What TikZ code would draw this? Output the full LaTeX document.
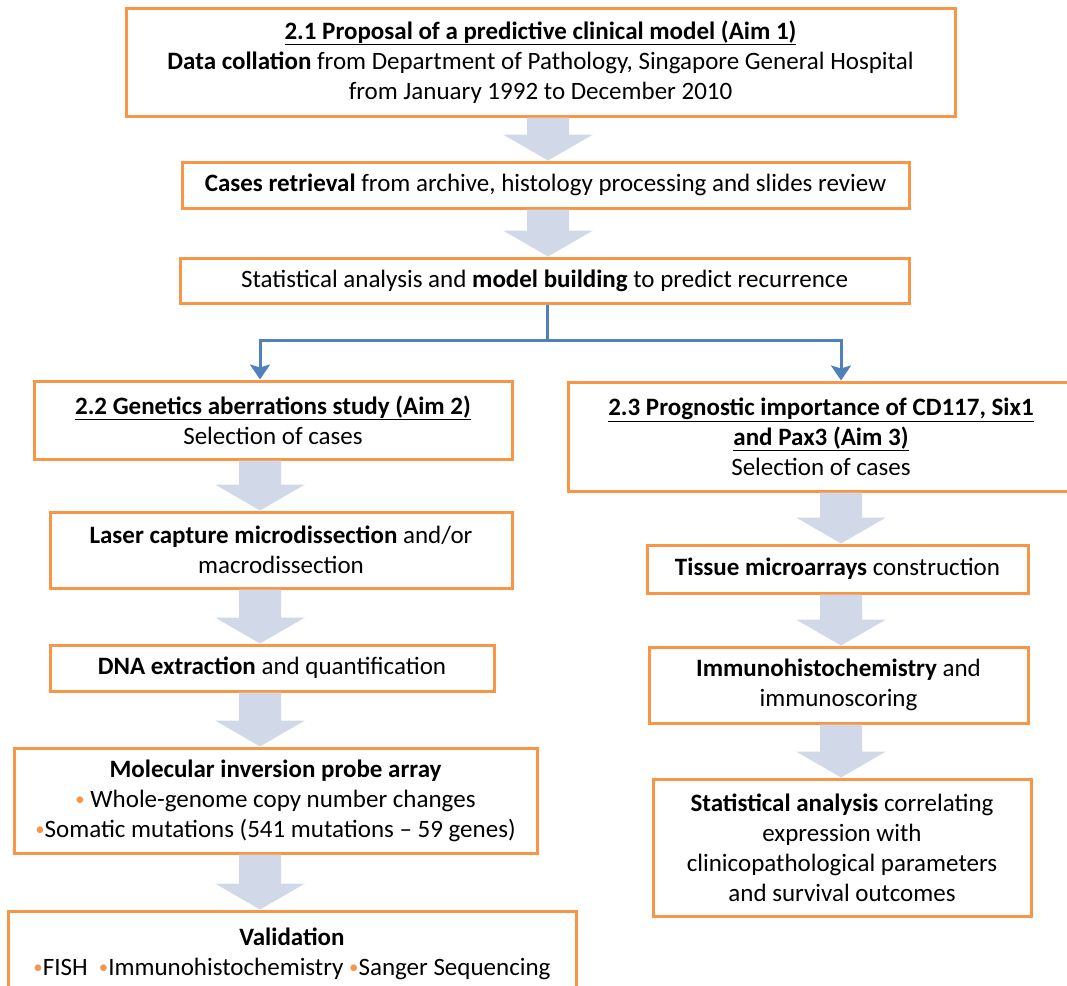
\documentclass[tikz,border=0pt]{standalone}
\usepackage{fontspec}
\setmainfont{Carlito}
\usetikzlibrary{arrows.meta,calc}

\definecolor{boxorange}{HTML}{F79646}
\definecolor{linkblue}{HTML}{4F81BD}
\definecolor{arrowgrey}{HTML}{D1D9E9}

\newcommand{\obul}{{\color{boxorange}\raisebox{0.15ex}{\scalebox{0.75}{\textbullet}}}}
% broad grey arrow between two boxes, on column #1
\newcommand{\blockarrow}[3]{%
  \path[block arrow] let \p1 = (#2.south -| #1), \p2 = (#3.north -| #1) in
    (\x1-21pt,\y1) -- (\x1+21pt,\y1) -- (\x1+21pt,\y2+26pt) -- (\x1+45pt,\y2+26pt)
    -- (\x2,\y2) -- (\x1-45pt,\y2+26pt) -- (\x1-21pt,\y2+26pt) -- cycle;}

\begin{document}
\begin{tikzpicture}[
  x=1pt, y=-1pt,
  flow box/.style={draw=boxorange, line width=3pt, fill=white, align=center,
    inner sep=0pt, font=\fontsize{25}{30}\selectfont},
  split edge/.style={draw=linkblue, line width=3pt},
  block arrow/.style={fill=arrowgrey}
]
\useasboundingbox (0,0) rectangle (1067,985);
\clip (0,0) rectangle (1067,985);

\coordinate (midcol) at (548,0);
\coordinate (leftcol) at (260,0);
\coordinate (rightcol) at (841,0);
\coordinate (fork) at (547,340);

% aim 1
\node[flow box, minimum width=829, minimum height=108] (aimone) at (540.5,62)
  {\textbf{\underline{2.1 Proposal of a predictive clinical model (Aim 1)}}\\
   \textbf{Data collation} from Department of Pathology, Singapore General Hospital\\
   from January 1992 to December 2010};
\node[flow box, minimum width=727, minimum height=46] (retrieval) at (545.5,185)
  {\textbf{Cases retrieval} from archive, histology processing and slides review};
\node[flow box, minimum width=729, minimum height=45] (modelling) at (544.5,280.5)
  {Statistical analysis and \textbf{model building} to predict recurrence};

% aim 2
\node[flow box, minimum width=478, minimum height=78] (aimtwo) at (273,420)
  {\textbf{\underline{2.2 Genetics aberrations study (Aim 2)}}\\ Selection of cases};
\node[flow box, minimum width=462, minimum height=76] (lcm) at (281,550)
  {\textbf{Laser capture microdissection} and/or\\ macrodissection};
\node[flow box, minimum width=444, minimum height=46] (dna) at (272,668)
  {\textbf{DNA extraction} and quantification};
\node[flow box, minimum width=523, minimum height=105] (mip) at (275.5,800.5)
  {\textbf{Molecular inversion probe array}\\
   \obul\ Whole-genome copy number changes\\
   \obul{}Somatic mutations (541 mutations – 59 genes)};
\node[flow box, minimum width=568, minimum height=86] (valid) at (292,954)
  {\textbf{Validation}\\
   \obul{}FISH\ \ \obul{}Immunohistochemistry \obul{}Sanger Sequencing};

% aim 3
\node[flow box, minimum width=506, minimum height=109] (aimthree) at (821,436.5)
  {\textbf{\underline{2.3 Prognostic importance of CD117, Six1}}\\
   \textbf{\underline{and Pax3 (Aim 3)}}\\ Selection of cases};
\node[flow box, minimum width=381, minimum height=48] (tma) at (837.5,569)
  {\textbf{Tissue microarrays} construction};
\node[flow box, minimum width=379, minimum height=76] (ihc) at (838.5,685)
  {\textbf{Immunohistochemistry} and\\ immunoscoring};
\node[flow box, minimum width=378, minimum height=137] (survstat) at (842,847.5)
  {\textbf{Statistical analysis} correlating\\ expression with\\
   clinicopathological parameters\\ and survival outcomes};

% grey arrows
\blockarrow{midcol}{aimone}{retrieval}
\blockarrow{midcol}{retrieval}{modelling}
\blockarrow{leftcol}{aimtwo}{lcm}
\blockarrow{leftcol}{lcm}{dna}
\blockarrow{leftcol}{dna}{mip}
\blockarrow{leftcol}{mip}{valid}
\blockarrow{rightcol}{aimthree}{tma}
\blockarrow{rightcol}{tma}{ihc}
\blockarrow{rightcol}{ihc}{survstat}

% split into aims 2 and 3
\draw[split edge] (modelling.south -| fork) -- (fork);
\draw[split edge, -{Stealth[length=15pt,width=20pt,inset=3pt]}] (fork) -| (aimtwo.north -| leftcol);
\draw[split edge, -{Stealth[length=15pt,width=20pt,inset=3pt]}] (fork) -| (aimthree.north -| rightcol);
\end{tikzpicture}
\end{document}
